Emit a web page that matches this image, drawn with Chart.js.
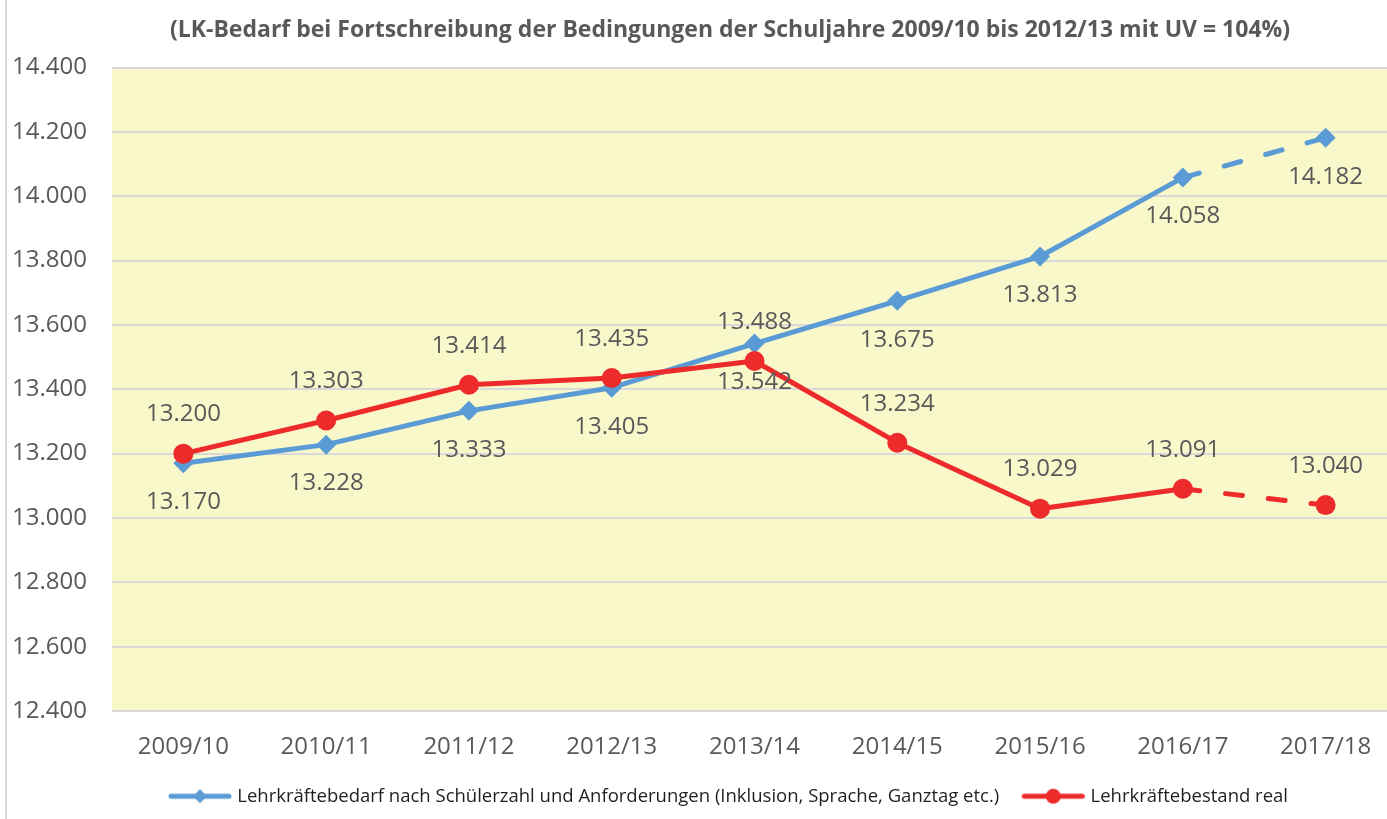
<!DOCTYPE html>
<html>
<head>
<meta charset="utf-8">
<script src="https://cdn.jsdelivr.net/npm/chart.js@4.4.1/dist/chart.umd.min.js"></script>
<style>
  body { margin: 0; background: #fff; overflow: hidden; }
  #wrap { width: 1387px; height: 819px; overflow: hidden; }
</style>
</head>
<body>
<div id="wrap"><canvas id="lkChart" width="1448" height="819"></canvas></div>
<script>
// Schuljahre
const years = ['2009/10', '2010/11', '2011/12', '2012/13', '2013/14', '2014/15', '2015/16', '2016/17', '2017/18'];
// Lehrkräftebedarf (blau)
const bedarf = [13170, 13228, 13333, 13405, 13542, 13675, 13813, 14058, 14182];
// Lehrkräftebestand real (rot)
const bestand = [13200, 13303, 13414, 13435, 13488, 13234, 13029, 13091, 13040];
// letzte Jahr = Prognose, gestrichelt
const projected = [false, false, false, false, false, false, false, false, true];
// y-Achse
const yMin = 12400, yMax = 14400, yStep = 200;

const BLUE = '#5B9BD5';
const RED = '#EE2B2B';
const GREY = '#595959';
const FONT = "'Open Sans', 'DejaVu Sans', sans-serif";

// German thousands separator: 13200 -> "13.200"
function fmt(v) {
    return String(Math.round(v)).replace(/\B(?=(\d{3})+(?!\d))/g, '.');
}

// legend icons: line with marker in the middle
function legendIcon(color, shape) {
    const c = document.createElement('canvas');
    c.width = 66; c.height = 18;
    const g = c.getContext('2d');
    g.strokeStyle = color; g.fillStyle = color;
    g.lineWidth = 5; g.lineCap = 'round';
    g.beginPath(); g.moveTo(4, 9); g.lineTo(62, 9); g.stroke();
    g.beginPath();
    if (shape === 'diamond') {
        g.moveTo(33, 2); g.lineTo(40, 9); g.lineTo(33, 16); g.lineTo(26, 9);
    } else {
        g.arc(33, 9, 7.5, 0, Math.PI * 2);
    }
    g.closePath(); g.fill();
    return c;
}
const icons = [legendIcon(BLUE, 'diamond'), legendIcon(RED, 'circle')];

// yellow plot area + left frame line
const plotBg = {
    id: 'plotBg',
    beforeDraw(chart) {
        const { ctx, chartArea: a } = chart;
        ctx.save();
        ctx.fillStyle = '#F9F8CB';
        ctx.fillRect(a.left, a.top, a.right - a.left, a.bottom - a.top);
        ctx.strokeStyle = '#D9D9D9';
        ctx.lineWidth = 2;
        ctx.beginPath(); ctx.moveTo(6, 0); ctx.lineTo(6, chart.height); ctx.stroke();
        ctx.restore();
    }
};

// value labels above / below the points
const valueLabels = {
    id: 'valueLabels',
    afterDatasetsDraw(chart) {
        const ctx = chart.ctx;
        ctx.save();
        ctx.font = '24px ' + FONT;
        ctx.fillStyle = GREY;
        ctx.textAlign = 'center';
        ctx.textBaseline = 'middle';
        chart.data.datasets.forEach((ds, i) => {
            chart.getDatasetMeta(i).data.forEach((pt, j) => {
                ctx.fillText(fmt(ds.data[j]), pt.x, pt.y + ds.labelOffset);
            });
        });
        ctx.restore();
    }
};

new Chart(document.getElementById('lkChart').getContext('2d'), {
    type: 'line',
    data: {
        labels: years,
        datasets: [{
            label: 'Lehrkräftebedarf nach Schülerzahl und Anforderungen (Inklusion, Sprache, Ganztag etc.)',
            data: bedarf,
            borderColor: BLUE,
            backgroundColor: BLUE,
            borderWidth: 5,
            pointStyle: 'rectRot',
            pointRadius: 10,
            pointBorderWidth: 0,
            borderCapStyle: 'round',
            borderJoinStyle: 'round',
            segment: { borderDash: c => projected[c.p1DataIndex] ? [17, 26] : undefined },
            labelOffset: 39,
            order: 2
        }, {
            label: 'Lehrkräftebestand real',
            data: bestand,
            borderColor: RED,
            backgroundColor: RED,
            borderWidth: 5,
            pointStyle: 'circle',
            pointRadius: 10,
            pointBorderWidth: 0,
            borderCapStyle: 'round',
            borderJoinStyle: 'round',
            segment: { borderDash: c => projected[c.p1DataIndex] ? [17, 26] : undefined },
            labelOffset: -39,
            order: 1
        }]
    },
    options: {
        responsive: false,
        animation: false,
        events: [],
        layout: { padding: { left: 12, right: 0, top: 0, bottom: 3.5 } },
        scales: {
            x: {
                offset: true,
                grid: { display: false, drawTicks: false },
                border: { display: false },
                ticks: { color: GREY, font: { family: FONT, size: 24 }, padding: 22 },
                afterFit(s) { s.height = 50; }
            },
            y: {
                min: yMin,
                max: yMax,
                grid: { color: '#D9D9D9', lineWidth: 2, drawTicks: false },
                border: { display: false },
                ticks: {
                    stepSize: yStep,
                    color: GREY,
                    crossAlign: 'far',
                    font: { family: FONT, size: 24 },
                    callback: v => fmt(v)
                },
                afterFit(s) { s.width = 100; }
            },
            // empty axis on the right, only so the title and legend centre like the original
            yPad: {
                type: 'linear',
                position: 'right',
                grid: { display: false },
                border: { display: false },
                ticks: { display: false },
                afterFit(s) { s.width = 51; }
            }
        },
        plugins: {
            title: {
                display: true,
                text: '(LK-Bedarf bei Fortschreibung der Bedingungen der Schuljahre 2009/10 bis 2012/13 mit UV = 104%)',
                color: GREY,
                font: { family: FONT, size: 23, weight: 'bold' },
                padding: { top: 17, bottom: 23 }
            },
            legend: {
                position: 'bottom',
                labels: {
                    usePointStyle: true,
                    pointStyleWidth: 56,
                    padding: 26,
                    color: '#1F1F1F',
                    font: { family: FONT, size: 18.5 },
                    sort: (a, b) => a.datasetIndex - b.datasetIndex,
                    generateLabels(chart) {
                        const items = Chart.defaults.plugins.legend.labels.generateLabels(chart);
                        items.forEach(it => { it.pointStyle = icons[it.datasetIndex]; });
                        return items;
                    }
                }
            },
            tooltip: { enabled: false }
        }
    },
    plugins: [plotBg, valueLabels]
});
</script>
</body>
</html>
